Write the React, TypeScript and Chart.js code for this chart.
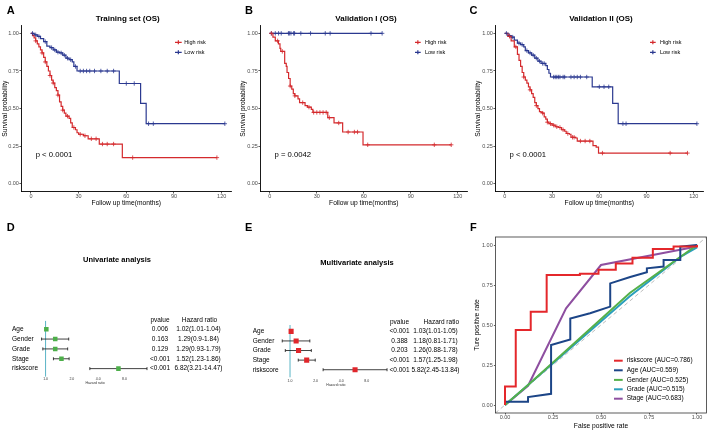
import React, { useEffect, useRef } from 'react';
import { Chart, registerables } from 'chart.js';

Chart.register(...registerables);

const FONT = '"Liberation Sans", Arial, Helvetica, sans-serif';

// ---------------- Kaplan–Meier data ----------------
const kmTickX = [0, 30, 60, 90, 120];
const kmTickY = [0, 0.25, 0.5, 0.75, 1];
const kmSeriesNames = ['High risk', 'Low risk'];

// A – Training set (OS)
const aHighTime = [0, 1, 2, 3, 4, 5, 6, 7, 8, 9, 10, 11, 12, 13, 14, 15, 16, 17, 18, 19, 20, 21, 22, 24, 25, 26, 28, 29, 30, 33, 36, 43, 57.5];
const aHighSurv = [1, 0.985, 0.97, 0.95, 0.93, 0.91, 0.89, 0.87, 0.84, 0.81, 0.78, 0.75, 0.72, 0.69, 0.67, 0.64, 0.62, 0.59, 0.545, 0.515, 0.49, 0.47, 0.45, 0.435, 0.405, 0.375, 0.36, 0.34, 0.33, 0.32, 0.30, 0.265, 0.175];
const aHighCensor = [3, 7, 9, 12, 14, 17, 20, 23, 27, 31, 34, 38, 41, 45, 48, 52, 64, 117];
const aLowTime = [0, 2, 4, 6, 8, 10, 12, 14, 16, 18, 20, 22, 24, 26, 27, 29, 55.6, 69, 72.5];
const aLowSurv = [1, 0.99, 0.98, 0.965, 0.945, 0.915, 0.905, 0.89, 0.875, 0.87, 0.855, 0.835, 0.825, 0.81, 0.78, 0.75, 0.667, 0.535, 0.40];
const aLowCensor = [1, 3, 5, 9, 13, 15, 17, 19, 21, 23, 25, 28, 31, 33, 35, 37, 40, 44, 48, 52, 60, 65, 74, 77, 122];

// B – Validation I (OS)
const bHighTime = [0, 2, 3.5, 5.5, 6.5, 7, 9.5, 10.5, 11, 12, 13, 14, 15, 16, 18, 19, 22.5, 24, 26.5, 27.5, 37, 41, 46.5, 59.5];
const bHighSurv = [1, 0.975, 0.95, 0.93, 0.90, 0.88, 0.80, 0.78, 0.74, 0.70, 0.65, 0.63, 0.60, 0.585, 0.565, 0.54, 0.52, 0.51, 0.495, 0.475, 0.44, 0.405, 0.345, 0.26];
const bHighCensor = [1, 5, 8, 13, 16, 21, 25, 28, 30, 32, 34, 36, 38, 44, 50, 54, 56, 62.5, 105, 115.8];
const bLowTime = [0];
const bLowSurv = [1];
const bLowCensor = [1, 3.5, 5.6, 7.3, 11.9, 12.5, 13.5, 15.2, 15.8, 19.8, 26, 35.4, 38.5, 64.6, 71.7];

// C – Validation II (OS)
const cHighTime = [0, 2, 4, 6, 8, 9, 10, 11, 12, 13, 14, 15, 16, 17, 18, 19, 20, 21, 22, 23, 24, 25, 26, 27, 28, 30, 32, 34, 36, 38, 39, 41, 42, 45, 46, 56, 58, 59.5];
const cHighSurv = [1, 0.98, 0.95, 0.91, 0.86, 0.82, 0.78, 0.74, 0.71, 0.69, 0.67, 0.645, 0.625, 0.60, 0.575, 0.54, 0.52, 0.50, 0.48, 0.475, 0.47, 0.445, 0.43, 0.41, 0.40, 0.39, 0.38, 0.375, 0.36, 0.35, 0.335, 0.33, 0.31, 0.305, 0.285, 0.255, 0.245, 0.205];
const cHighCensor = [3, 7, 12, 16, 20, 24, 27, 29, 31, 33, 35, 37, 40, 43, 44, 48, 51, 54, 62, 105, 116];
const cLowTime = [0, 2, 4, 6, 8, 10, 12, 13, 15, 17, 19, 21, 23, 26, 27, 28, 29, 55.5, 68.5, 72];
const cLowSurv = [1, 0.985, 0.975, 0.955, 0.935, 0.925, 0.91, 0.885, 0.87, 0.855, 0.835, 0.815, 0.80, 0.785, 0.76, 0.735, 0.71, 0.645, 0.535, 0.40];
const cLowCensor = [1, 3, 5, 9, 11, 14, 16, 18, 20, 22, 24, 25, 31, 32, 33, 34, 35, 37, 38, 42, 44, 46, 48, 52, 60, 63, 66, 75, 77, 122];

// ---------------- Forest data ----------------
const forestVars = ['Age', 'Gender', 'Grade', 'Stage', 'riskscore'];
const forestTicks = [1, 2, 4, 8];
const uniHR = [1.02, 1.29, 1.29, 1.52, 6.82];
const uniLow = [1.01, 0.9, 0.93, 1.23, 3.21];
const uniHigh = [1.04, 1.84, 1.79, 1.86, 14.47];
const uniP = ['0.006', '0.163', '0.129', '<0.001', '<0.001'];
const multiHR = [1.03, 1.18, 1.26, 1.57, 5.82];
const multiLow = [1.01, 0.81, 0.88, 1.25, 2.45];
const multiHigh = [1.05, 1.71, 1.78, 1.98, 13.84];
const multiP = ['<0.001', '0.388', '0.203', '<0.001', '<0.001'];

// ---------------- ROC data ----------------
const rocNames = ['riskscore (AUC=0.786)', 'Age (AUC=0.559)', 'Gender (AUC=0.525)', 'Grade (AUC=0.515)', 'Stage (AUC=0.683)'];
const rocTicks = [0, 0.25, 0.5, 0.75, 1];
const riskFpr = [0, 0, 0.056, 0.056, 0.134, 0.134, 0.217, 0.217, 0.39, 0.39, 0.487, 0.487, 0.577, 0.577, 0.664, 0.664, 0.77, 0.77, 0.878, 0.878, 1, 1];
const riskTpr = [0, 0.115, 0.115, 0.469, 0.469, 0.583, 0.583, 0.8125, 0.8125, 0.82, 0.82, 0.845, 0.845, 0.885, 0.885, 0.92, 0.92, 0.975, 0.975, 0.99, 0.99, 1];
const ageFpr = [0, 0, 0.12, 0.12, 0.24, 0.24, 0.34, 0.34, 0.443, 0.548, 0.548, 0.652, 0.739, 0.739, 0.826, 0.826, 0.913, 0.913, 1];
const ageTpr = [0, 0.02, 0.02, 0.05, 0.07, 0.375, 0.41, 0.54, 0.573, 0.615, 0.76, 0.80, 0.83, 0.854, 0.865, 0.906, 0.906, 0.99, 1];
const genderFpr = [0, 0.12, 0.65, 1];
const genderTpr = [0, 0.125, 0.70, 1];
const gradeFpr = [0, 0.12, 0.65, 0.913, 1];
const gradeTpr = [0, 0.125, 0.68, 0.925, 0.985];
const stageFpr = [0, 0.12, 0.318, 0.5, 1];
const stageTpr = [0, 0.12, 0.604, 0.875, 0.99];
const diagonal = [-0.05, 1.05];

// ---------------- colours ----------------
const KM_RED = '#d42a2d';
const KM_BLUE = '#2b3990';
const FOREST_GREEN = '#4daf4a';
const FOREST_RED = '#e0262b';
const REF_LINE = '#5ab4c6';
const ROC_COLORS = ['#e4272b', '#1c4587', '#55b04a', '#2a9fbc', '#8e4fa0'];

// ---------------- helpers ----------------
const pts = (xs: number[], ys: number[]) => xs.map((x, i) => ({ x, y: ys[i] }));
function survAt(times: number[], surv: number[], t: number) {
  let s = surv[0];
  for (let i = 0; i < times.length; i++) if (times[i] <= t) s = surv[i];
  return s;
}
function kmLine(times: number[], surv: number[], censor: number[]) {
  const last = Math.max(times[times.length - 1], ...censor);
  return [...pts(times, surv), { x: last, y: surv[surv.length - 1] }];
}
function kmCensor(times: number[], surv: number[], censor: number[]) {
  return censor.map((t) => ({ x: t, y: survAt(times, surv, t) }));
}
const font = (size: number, bold = false) => ({ family: FONT, size, weight: bold ? 'bold' : 'normal' } as any);

type TextItem = { text: string; x: number; y: number; size: number; bold?: boolean; align?: CanvasTextAlign; xData?: boolean; yData?: boolean; color?: string };
function textPlugin(id: string, items: TextItem[]) {
  return {
    id,
    afterDraw(chart: any) {
      const ctx = chart.ctx;
      items.forEach((it) => {
        ctx.save();
        ctx.font = `${it.bold ? 'bold ' : ''}${it.size}px ${FONT}`;
        ctx.fillStyle = it.color || '#000';
        ctx.textAlign = it.align || 'center';
        ctx.textBaseline = 'middle';
        const x = it.xData ? chart.scales.x.getPixelForValue(it.x) : it.x;
        const y = it.yData ? chart.scales.y.getPixelForValue(it.y) : it.y;
        ctx.fillText(it.text, x, y);
        ctx.restore();
      });
    },
  };
}

function legendPlugin(id: string, items: { label: string; color: string; y: number }[], x1: number, x2: number, tx: number, size: number, lw: number, cross: boolean) {
  return {
    id,
    afterDraw(chart: any) {
      const ctx = chart.ctx;
      items.forEach((it) => {
        ctx.save();
        ctx.strokeStyle = it.color;
        ctx.lineWidth = lw;
        ctx.beginPath();
        ctx.moveTo(x1, it.y);
        ctx.lineTo(x2, it.y);
        if (cross) {
          const cx = (x1 + x2) / 2;
          ctx.moveTo(cx, it.y - 2);
          ctx.lineTo(cx, it.y + 2);
        }
        ctx.stroke();
        ctx.fillStyle = '#000';
        ctx.font = `${size}px ${FONT}`;
        ctx.textAlign = 'left';
        ctx.textBaseline = 'middle';
        ctx.fillText(it.label, tx, it.y);
        ctx.restore();
      });
    },
  };
}

// ---------------- KM chart ----------------
type KMPanel = {
  title: string; titleX: number; pText: string;
  chartLeft: number; chartRight: number; yTitlePad: number;
  lx1: number; lx2: number; ltx: number;
  hT: number[]; hS: number[]; hC: number[]; lT: number[]; lS: number[]; lC: number[];
};

function buildKM(canvas: HTMLCanvasElement, p: KMPanel) {
  const W = canvas.width;
  const H = canvas.height;
  const chartTop = 25.8;
  const chartBottom = 191.5;
  const texts: TextItem[] = [
    { text: p.title, x: p.titleX, y: 18.3, size: 8, bold: true },
    { text: p.pText, x: 3, y: 0.19, size: 7.7, align: 'left', xData: true, yData: true },
  ];
  const legend = [
    { label: kmSeriesNames[0], color: KM_RED, y: 42.3 },
    { label: kmSeriesNames[1], color: KM_BLUE, y: 52.3 },
  ];
  const censorStyle = (c: string) => ({ showLine: false, pointStyle: 'cross', pointRadius: 2.2, pointBorderColor: c, pointBackgroundColor: c, pointBorderWidth: 0.8 });
  const lineStyle = (c: string) => ({ stepped: 'before', borderColor: c, borderWidth: 1.2, pointRadius: 0, fill: false });
  return new Chart(canvas, {
    type: 'line',
    data: {
      datasets: [
        { label: 'High censor', data: kmCensor(p.hT, p.hS, p.hC), ...censorStyle(KM_RED) },
        { label: 'Low censor', data: kmCensor(p.lT, p.lS, p.lC), ...censorStyle(KM_BLUE) },
        { label: kmSeriesNames[0], data: kmLine(p.hT, p.hS, p.hC), ...lineStyle(KM_RED) },
        { label: kmSeriesNames[1], data: kmLine(p.lT, p.lS, p.lC), ...lineStyle(KM_BLUE) },
      ] as any,
    },
    options: {
      animation: false,
      responsive: false,
      layout: { padding: { left: 0, right: W - p.chartRight, top: chartTop, bottom: 0 } },
      plugins: { legend: { display: false }, tooltip: { enabled: false } },
      scales: {
        x: {
          type: 'linear', min: -6, max: 126,
          afterBuildTicks: (s: any) => { s.ticks = kmTickX.map((v) => ({ value: v })); },
          afterFit: (s: any) => { s.height = H - chartBottom; },
          ticks: { font: font(5.5), color: '#4d4d4d', padding: 0, maxRotation: 0, autoSkip: false, callback: (v: any) => String(v) },
          grid: { drawOnChartArea: false, drawTicks: true, tickLength: 2, color: '#333', lineWidth: 0.8 },
          border: { display: true, color: '#000', width: 0.9 },
          title: { display: true, text: 'Follow up time(months)', font: font(6.7), color: '#000', padding: { top: 0, bottom: 7.7 } },
        },
        y: {
          type: 'linear', min: -0.05, max: 1.05,
          afterBuildTicks: (s: any) => { s.ticks = kmTickY.map((v) => ({ value: v })); },
          afterFit: (s: any) => { s.width = p.chartLeft; },
          ticks: { font: font(5.5), color: '#4d4d4d', padding: 0.5, autoSkip: false, callback: (v: any) => Number(v).toFixed(2) },
          grid: { drawOnChartArea: false, drawTicks: true, tickLength: 2, color: '#333', lineWidth: 0.8 },
          border: { display: true, color: '#000', width: 0.9 },
          title: { display: true, text: 'Survival probability', font: font(6.7), color: '#000', padding: { top: p.yTitlePad, bottom: 0 } },
        },
      },
    } as any,
    plugins: [textPlugin('kmTexts', texts), legendPlugin('kmLegend', legend, p.lx1, p.lx2, p.ltx, 5.5, 1.2, true)],
  });
}

// ---------------- Forest chart ----------------
type ForestPanel = {
  title: string; titleX: number; titleY: number;
  hr: number[]; lo: number[]; hi: number[]; pv: string[];
  color: string; r: number;
  padLeft: number; yW: number; chartRight: number; chartTop: number; chartBottom: number;
  xMin: number; xMax: number; yMin: number; yMax: number; tickPad: number; titlePB: number;
  pX: number; hrHeadX: number; hrX: number;
};

function forestPlugin(p: ForestPanel) {
  return {
    id: 'forestCI',
    beforeDatasetsDraw(chart: any) {
      const { ctx, chartArea, scales } = chart;
      const x = scales.x;
      const y = scales.y;
      ctx.save();
      ctx.strokeStyle = REF_LINE;
      ctx.lineWidth = 1;
      const x1 = x.getPixelForValue(1);
      ctx.beginPath();
      ctx.moveTo(x1, chartArea.top);
      ctx.lineTo(x1, chartArea.bottom);
      ctx.stroke();
      ctx.strokeStyle = '#111';
      ctx.lineWidth = 0.8;
      p.lo.forEach((lo, i) => {
        const py = y.getPixelForValue(i + 1);
        const a = x.getPixelForValue(lo);
        const b = x.getPixelForValue(p.hi[i]);
        ctx.beginPath();
        ctx.moveTo(a, py); ctx.lineTo(b, py);
        ctx.moveTo(a, py - 1.5); ctx.lineTo(a, py + 1.5);
        ctx.moveTo(b, py - 1.5); ctx.lineTo(b, py + 1.5);
        ctx.stroke();
      });
      ctx.restore();
    },
  };
}

function buildForest(canvas: HTMLCanvasElement, p: ForestPanel) {
  const W = canvas.width;
  const H = canvas.height;
  const texts: TextItem[] = [
    { text: p.title, x: p.titleX, y: p.titleY, size: 7.5, bold: true },
    { text: 'pvalue', x: p.pX, y: 0.05, size: 6.5, yData: true },
    { text: 'Hazard ratio', x: p.hrHeadX, y: 0.05, size: 6.5, yData: true },
  ];
  p.hr.forEach((v, i) => {
    texts.push({ text: p.pv[i], x: p.pX, y: i + 1, size: 6.5, yData: true });
    texts.push({ text: `${v.toFixed(2)}(${String(p.lo[i])}-${String(p.hi[i])})`, x: p.hrX, y: i + 1, size: 6.5, yData: true });
  });
  return new Chart(canvas, {
    type: 'scatter',
    data: {
      datasets: [{
        label: 'HR',
        data: p.hr.map((v, i) => ({ x: v, y: i + 1 })),
        pointStyle: 'rect', pointRadius: p.r,
        pointBackgroundColor: p.color, pointBorderColor: p.color, pointBorderWidth: 0,
      }] as any,
    },
    options: {
      animation: false,
      responsive: false,
      layout: { padding: { left: p.padLeft, right: W - p.chartRight, top: p.chartTop, bottom: 0 } },
      plugins: { legend: { display: false }, tooltip: { enabled: false } },
      scales: {
        x: {
          type: 'logarithmic', min: p.xMin, max: p.xMax,
          afterBuildTicks: (s: any) => { s.ticks = forestTicks.map((v) => ({ value: v })); },
          afterFit: (s: any) => { s.height = H - p.chartBottom; },
          ticks: { font: font(3.5), color: '#333', padding: p.tickPad, maxRotation: 0, autoSkip: false, callback: (v: any) => Number(v).toFixed(1) },
          grid: { display: false, drawTicks: false },
          border: { display: false },
          title: { display: true, text: 'Hazard ratio', font: font(3.5), color: '#333', padding: { top: 0, bottom: p.titlePB } },
        },
        y: {
          type: 'linear', reverse: true, min: p.yMin, max: p.yMax,
          afterBuildTicks: (s: any) => { s.ticks = [1, 2, 3, 4, 5].map((v) => ({ value: v })); },
          afterFit: (s: any) => { s.width = p.yW; },
          ticks: { font: font(6.5), color: '#000', padding: 0, crossAlign: 'far', autoSkip: false, callback: (v: any) => forestVars[Number(v) - 1] },
          grid: { display: false, drawTicks: false },
          border: { display: false },
        },
      },
    } as any,
    plugins: [forestPlugin(p), textPlugin('forestTexts', texts)],
  });
}

// ---------------- ROC chart ----------------
function buildROC(canvas: HTMLCanvasElement) {
  const W = canvas.width;
  const H = canvas.height;
  const chartLeft = 25.4;
  const chartRight = 236.6;
  const chartTop = 22;
  const chartBottom = 198;
  const series = [
    pts(riskFpr, riskTpr), pts(ageFpr, ageTpr), pts(genderFpr, genderTpr), pts(gradeFpr, gradeTpr), pts(stageFpr, stageTpr),
  ];
  const datasets: any[] = series.map((d, i) => ({
    label: rocNames[i], data: d, borderColor: ROC_COLORS[i], borderWidth: 2, pointRadius: 0, fill: false,
  }));
  datasets.push({ label: 'ref', data: pts(diagonal, diagonal), borderColor: '#b5b5b5', borderWidth: 0.9, borderDash: [4, 3], pointRadius: 0, fill: false });
  const legendRows = [145.7, 155.3, 164.9, 174.3, 183.7];
  const legend = rocNames.map((n, i) => ({ label: n, color: ROC_COLORS[i], y: legendRows[i] }));
  const frame = {
    id: 'frame',
    afterDraw(chart: any) {
      const { ctx, chartArea } = chart;
      ctx.save();
      ctx.strokeStyle = '#333';
      ctx.lineWidth = 0.8;
      ctx.strokeRect(chartArea.left, chartArea.top, chartArea.right - chartArea.left, chartArea.bottom - chartArea.top);
      ctx.restore();
    },
  };
  const axis = (title: string, pad: any, isX: boolean) => ({
    type: 'linear', min: -0.05, max: 1.05,
    afterBuildTicks: (s: any) => { s.ticks = rocTicks.map((v) => ({ value: v })); },
    afterFit: (s: any) => { if (isX) s.height = H - chartBottom; else s.width = chartLeft; },
    ticks: { font: font(5.5), color: '#4d4d4d', padding: isX ? 0 : 1.2, maxRotation: 0, autoSkip: false, callback: (v: any) => Number(v).toFixed(2) },
    grid: { drawOnChartArea: false, drawTicks: true, tickLength: 1.5, color: '#333', lineWidth: 0.8 },
    border: { display: false },
    title: { display: true, text: title, font: font(6.7), color: '#000', padding: pad },
  });
  return new Chart(canvas, {
    type: 'line',
    data: { datasets },
    options: {
      animation: false,
      responsive: false,
      layout: { padding: { left: 0, right: W - chartRight, top: chartTop, bottom: 0 } },
      plugins: { legend: { display: false }, tooltip: { enabled: false } },
      scales: {
        x: axis('False positive rate', { top: 0, bottom: 0.3 }, true),
        y: axis('Ture positive rate', { top: 2.7, bottom: 0 }, false),
      },
    } as any,
    plugins: [frame, legendPlugin('rocLegend', legend, 144, 152.7, 156.7, 6.5, 2, false)],
  });
}

// ---------------- panels ----------------
const kmA: KMPanel = {
  title: 'Training set (OS)', titleX: 127.7, pText: 'p < 0.0001',
  chartLeft: 21.4, chartRight: 232.6, yTitlePad: 1, lx1: 175, lx2: 181.7, ltx: 184.3,
  hT: aHighTime, hS: aHighSurv, hC: aHighCensor, lT: aLowTime, lS: aLowSurv, lC: aLowCensor,
};
const kmB: KMPanel = {
  title: 'Validation I (OS)', titleX: 130, pText: 'p = 0.0042',
  chartLeft: 24.4, chartRight: 235.6, yTitlePad: 2.8, lx1: 179, lx2: 184.7, ltx: 189,
  hT: bHighTime, hS: bHighSurv, hC: bHighCensor, lT: bLowTime, lS: bLowSurv, lC: bLowCensor,
};
const kmC: KMPanel = {
  title: 'Validation II (OS)', titleX: 131, pText: 'p < 0.0001',
  chartLeft: 25.4, chartRight: 236.6, yTitlePad: 3.8, lx1: 180, lx2: 185.7, ltx: 190,
  hT: cHighTime, hS: cHighSurv, hC: cHighCensor, lT: cLowTime, lS: cLowSurv, lC: cLowCensor,
};
const forestD: ForestPanel = {
  title: 'Univariate analysis', titleX: 117, titleY: 45,
  hr: uniHR, lo: uniLow, hi: uniHigh, pv: uniP, color: FOREST_GREEN, r: 3.2,
  padLeft: 12, yW: 27.4, chartRight: 150.8, chartTop: 105.9, chartBottom: 161.6,
  xMin: 0.85, xMax: 16, yMin: 0.157, yMax: 5.81, tickPad: 0.6, titlePB: 44.6,
  pX: 160, hrHeadX: 199.5, hrX: 198.5,
};
const forestE: ForestPanel = {
  title: 'Multivariate analysis', titleX: 121, titleY: 48,
  hr: multiHR, lo: multiLow, hi: multiHigh, pv: multiP, color: FOREST_RED, r: 3.6,
  padLeft: 16.7, yW: 26.7, chartRight: 156.4, chartTop: 110, chartBottom: 162.3,
  xMin: 0.75, xMax: 16, yMin: 0.34, yMax: 5.79, tickPad: 1.3, titlePB: 42.9,
  pX: 163.5, hrHeadX: 205.3, hrX: 199.5,
};

function ChartCanvas({ left, top, width, height, build }: { left: number; top: number; width: number; height: number; build: (c: HTMLCanvasElement) => Chart }) {
  const ref = useRef<HTMLCanvasElement>(null);
  useEffect(() => {
    const chart = build(ref.current as HTMLCanvasElement);
    return () => chart.destroy();
  }, []);
  return <canvas ref={ref} width={width} height={height} style={{ position: 'absolute', left, top, width, height }} />;
}

const letterStyle = (left: number, top: number): React.CSSProperties => ({
  position: 'absolute', left, top, font: `bold 11px ${FONT}`, lineHeight: '11px', color: '#000',
});

export default function App() {
  return (
    <div style={{ position: 'absolute', left: 0, top: 0, width: 708, height: 430, background: '#fff', overflow: 'hidden' }}>
      <ChartCanvas left={0} top={0} width={236} height={215} build={(c) => buildKM(c, kmA)} />
      <ChartCanvas left={236} top={0} width={236} height={215} build={(c) => buildKM(c, kmB)} />
      <ChartCanvas left={470} top={0} width={238} height={215} build={(c) => buildKM(c, kmC)} />
      <ChartCanvas left={0} top={215} width={236} height={215} build={(c) => buildForest(c, forestD)} />
      <ChartCanvas left={236} top={215} width={234} height={215} build={(c) => buildForest(c, forestE)} />
      <ChartCanvas left={470} top={215} width={238} height={215} build={(c) => buildROC(c)} />
      <div style={letterStyle(6.7, 4.5)}>A</div>
      <div style={letterStyle(245, 4.5)}>B</div>
      <div style={letterStyle(469.5, 4.5)}>C</div>
      <div style={letterStyle(6.7, 222)}>D</div>
      <div style={letterStyle(245, 222)}>E</div>
      <div style={letterStyle(470, 222)}>F</div>
    </div>
  );
}
